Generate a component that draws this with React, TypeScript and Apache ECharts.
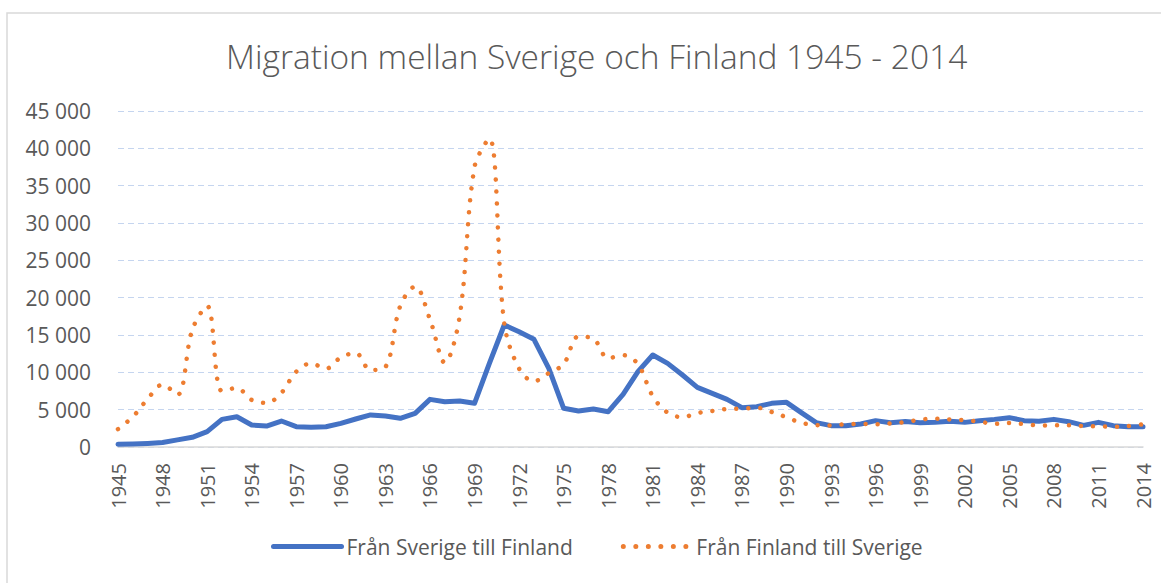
import React, { useEffect, useRef } from "react";
import * as echarts from "echarts";

const years: string[] = [
  "1945", "1946", "1947", "1948", "1949", "1950", "1951", "1952", "1953", "1954",
  "1955", "1956", "1957", "1958", "1959", "1960", "1961", "1962", "1963", "1964",
  "1965", "1966", "1967", "1968", "1969", "1970", "1971", "1972", "1973", "1974",
  "1975", "1976", "1977", "1978", "1979", "1980", "1981", "1982", "1983", "1984",
  "1985", "1986", "1987", "1988", "1989", "1990", "1991", "1992", "1993", "1994",
  "1995", "1996", "1997", "1998", "1999", "2000", "2001", "2002", "2003", "2004",
  "2005", "2006", "2007", "2008", "2009", "2010", "2011", "2012", "2013", "2014",
];

const fromSwedenToFinland: number[] = [
  360, 400, 480, 600, 950, 1300, 2050, 3700, 4050, 2950,
  2800, 3480, 2720, 2650, 2720, 3170, 3750, 4300, 4150, 3840,
  4510, 6380, 6070, 6160, 5850, 11200, 16340, 15440, 14420, 10540,
  5180, 4820, 5090, 4730, 7060, 10090, 12320, 11200, 9640, 7990,
  7190, 6380, 5270, 5400, 5850, 5980, 4600, 3260, 2860, 2860,
  3080, 3530, 3260, 3400, 3260, 3300, 3440, 3300, 3530, 3700,
  3930, 3530, 3440, 3700, 3390, 2900, 3300, 2860, 2720, 2720,
];

const fromFinlandToSweden: number[] = [
  2400, 4050, 6440, 8350, 7000, 15700, 18900, 7500, 7900, 6300,
  5900, 7250, 10100, 11200, 10500, 12000, 12600, 10300, 10700, 18900,
  21500, 17100, 11300, 17500, 37500, 41300, 16600, 10500, 8800, 9900,
  11100, 14800, 14500, 11900, 12300, 11100, 6800, 4600, 4000, 4550,
  4830, 5090, 5130, 5260, 4700, 3980, 3250, 2940, 2880, 3060,
  3080, 3050, 3150, 3350, 3660, 3800, 3680, 3580, 3400, 3090,
  3230, 3060, 2890, 2900, 2900, 2810, 2760, 2720, 2800, 3050,
];

const seriesNames: string[] = ["Från Sverige till Finland", "Från Finland till Sverige"];
const titleText = "Migration mellan Sverige och Finland 1945 - 2014";

const FONT = "'Open Sans', 'Noto Sans', sans-serif";
const TEXT = "#595959";
const BLUE = "#4472C4";
const ORANGE = "#ED7D31";

export default function App() {
  const ref = useRef<HTMLDivElement>(null);
  useEffect(() => {
    if (!ref.current) return;
    const chart = echarts.init(ref.current, null, { renderer: "svg" });
    chart.setOption({
      animation: false,
      backgroundColor: "#ffffff",
      textStyle: { fontFamily: FONT },
      title: {
        text: titleText,
        left: 221,
        top: 34,
        textStyle: { fontFamily: FONT, fontSize: 33.5, fontWeight: 300, color: TEXT },
      },
      graphic: [
        {
          type: "rect",
          shape: { x: 7, y: 13, width: 1170, height: 590 },
          style: { fill: "none", stroke: "#d9d9d9", lineWidth: 1.5 },
          silent: true,
          z: -1,
        },
      ],
      legend: {
        bottom: 21,
        left: 266,
        itemWidth: 68,
        itemHeight: 10,
        itemGap: 48,
        itemStyle: { opacity: 0 },
        textStyle: { fontFamily: FONT, fontSize: 21, color: TEXT },
        data: [
          { name: seriesNames[0], lineStyle: { width: 5, color: BLUE, cap: "round" } },
          {
            name: seriesNames[1],
            lineStyle: { width: 5, color: ORANGE, type: [0.01, 12.5], cap: "round" },
          },
        ],
      },
      grid: { left: 118, right: 18, top: 111, bottom: 136, containLabel: false },
      xAxis: {
        type: "category",
        data: years,
        boundaryGap: false,
        axisLine: { lineStyle: { color: "#d9d9d9", width: 1.5 } },
        axisTick: { show: false },
        axisLabel: {
          interval: 2,
          rotate: 90,
          margin: 16,
          fontFamily: FONT,
          fontSize: 20,
          color: TEXT,
        },
        splitLine: { show: false },
      },
      yAxis: {
        type: "value",
        min: 0,
        max: 45000,
        interval: 5000,
        axisLine: { show: false },
        axisTick: { show: false },
        axisLabel: {
          margin: 27,
          fontFamily: FONT,
          fontSize: 21,
          color: TEXT,
          formatter: (v: number) => String(v).replace(/\B(?=(\d{3})+(?!\d))/g, " "),
        },
        splitLine: { lineStyle: { color: "#c5d5ef", type: [6, 4], width: 1.2 } },
      },
      series: [
        {
          name: seriesNames[0],
          type: "line",
          data: fromSwedenToFinland,
          showSymbol: false,
          symbol: "none",
          smooth: false,
          lineStyle: { color: BLUE, width: 5, cap: "round", join: "round" },
          itemStyle: { color: BLUE },
          z: 2,
        },
        {
          name: seriesNames[1],
          type: "line",
          data: fromFinlandToSweden,
          showSymbol: false,
          symbol: "none",
          smooth: 0.35,
          lineStyle: { color: ORANGE, width: 4.5, type: [0.01, 12], cap: "round" },
          itemStyle: { color: ORANGE },
          z: 3,
        },
      ],
    });
    return () => chart.dispose();
  }, []);
  return (
    <div
      ref={ref}
      style={{ position: "fixed", left: 0, top: 0, width: 1161, height: 583 }}
    />
  );
}
